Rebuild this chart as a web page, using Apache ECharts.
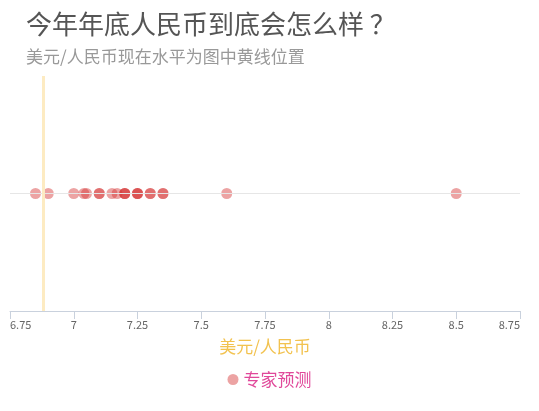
<!DOCTYPE html>
<html>
<head>
<meta charset="utf-8">
<script src="https://cdn.jsdelivr.net/npm/echarts@6/dist/echarts.min.js"></script>
<style>
  html, body { margin: 0; padding: 0; background: #fff; }
  #chart { width: 539px; height: 411px; }
</style>
</head>
<body>
<div id="chart"></div>
<script>
// 专家预测 (年底 美元/人民币)
var forecasts = [6.85, 6.9, 7.0, 7.04, 7.05, 7.1, 7.1, 7.15, 7.17, 7.2, 7.2, 7.2,
                 7.25, 7.25, 7.25, 7.3, 7.3, 7.35, 7.35, 7.6, 8.5];
var currentRate = 6.88;
var axisMin = 6.75, axisMax = 8.75, axisStep = 0.25;

var font = '"Noto Sans CJK SC", "Noto Sans", sans-serif';

var chart = echarts.init(document.getElementById('chart'));

var option = {
    textStyle: { fontFamily: font },
    title: {
        text: '今年年底人民币到底会怎么样 ？',
        subtext: '美元/人民币现在水平为图中黄线位置',
        left: 21,
        top: 6,
        itemGap: 11,
        textStyle: { fontSize: 26, fontWeight: 'normal', color: '#555', fontFamily: font },
        subtextStyle: { fontSize: 17, color: '#999', fontFamily: font }
    },
    legend: {
        bottom: 18,
        icon: 'circle',
        itemWidth: 11,
        itemHeight: 11,
        textStyle: { fontSize: 17, color: '#e0489a', fontFamily: font },
        data: ['专家预测']
    },
    grid: { left: 10, right: 19, top: 76, bottom: 100 },
    xAxis: {
        type: 'value',
        min: axisMin,
        max: axisMax,
        interval: axisStep,
        name: '美元/人民币',
        nameLocation: 'middle',
        nameGap: 27,
        nameTextStyle: { fontSize: 17, color: '#f2c24f', fontFamily: font },
        axisLine: { onZero: false, lineStyle: { color: '#c9d1dd' } },
        axisTick: { length: 8, lineStyle: { color: '#c9d1dd' } },
        axisLabel: { color: '#666', fontSize: 11, margin: 8, alignMinLabel: 'left', alignMaxLabel: 'right' },
        splitLine: { show: false }
    },
    yAxis: {
        type: 'value',
        min: -1,
        max: 1,
        show: false
    },
    series: [{
        name: '专家预测',
        type: 'scatter',
        symbolSize: 11,
        itemStyle: { color: 'rgb(212,52,52)', opacity: 0.45 },
        data: forecasts.map(function (v) { return [v, 0]; }),
        markLine: {
            silent: true,
            symbol: 'none',
            label: { show: false },
            data: [
                { yAxis: 0, lineStyle: { color: '#e6e6e6', width: 1, type: 'solid' } },
                { xAxis: currentRate, lineStyle: { color: '#fdebc2', width: 3, type: 'solid' } }
            ]
        }
    }]
};

chart.setOption(option);
</script>
</body>
</html>
